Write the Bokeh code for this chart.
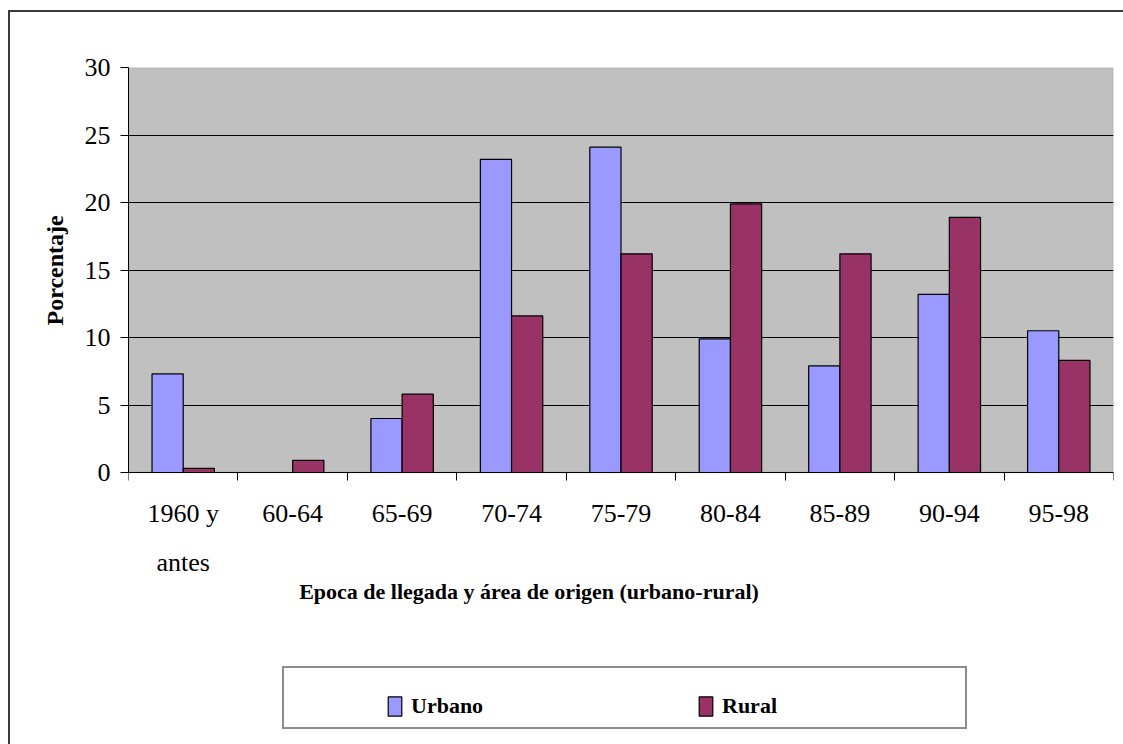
from bokeh.plotting import figure
from bokeh.models import (ColumnDataSource, FixedTicker, Legend, LegendItem, Title,
                          Label, Range1d, BoxAnnotation)
from bokeh.transform import dodge
from bokeh.embed import file_html
from bokeh.resources import INLINE

categories = ["1960 y\nantes", "60-64", "65-69", "70-74", "75-79", "80-84", "85-89", "90-94", "95-98"]
urbano = [7.3, 0.0, 4.0, 23.2, 24.1, 9.9, 7.9, 13.2, 10.5]
rural = [0.3, 0.9, 5.8, 11.6, 16.2, 19.9, 16.2, 18.9, 8.3]
y_ticks = [0, 5, 10, 15, 20, 25, 30]
series_names = ["Urbano", "Rural"]
x_title = "Epoca de llegada y área de origen (urbano-rural)"
y_title = "Porcentaje"

FONT = "Liberation Serif"

W, H = 1123, 744
LEFT, TOP, PLOT_W, PLOT_H = 128, 67, 985, 405
n = len(categories)
y_max = y_ticks[-1]
px_per_unit = PLOT_H / y_max
y_min = -(H - TOP - PLOT_H) / px_per_unit      # frame continues below the plot area

centers = [i + 0.5 for i in range(n)]
bounds = list(range(n + 1))
source = ColumnDataSource(dict(x=centers, urbano=urbano, rural=rural))

p = figure(width=W, height=H,
           x_range=Range1d(0, n), y_range=Range1d(y_min, y_max),
           output_backend="svg", toolbar_location=None,
           min_border_left=LEFT, min_border_right=W - LEFT - PLOT_W,
           min_border_top=TOP, min_border_bottom=0)

p.background_fill_color = "white"
p.border_fill_alpha = 0
p.outline_line_color = None
p.styles = {"box-shadow": "inset 8px 0 0 0 #ffffff, inset 0 10px 0 0 #ffffff, "
                          "inset 10px 0 0 0 #3c3c3c, inset 0 12px 0 0 #3c3c3c"}

# grey plot area
p.add_layout(BoxAnnotation(left=0, right=n, bottom=0, top=y_max, level="image",
                           fill_color="#C0C0C0", fill_alpha=1,
                           line_color="#808080", line_width=1.5))

bw = 0.285
r_u = p.vbar(x=dodge("x", -bw / 2), top="urbano", width=bw, source=source,
             fill_color="#9999FF", line_color="#000000", line_width=1.2)
r_r = p.vbar(x=dodge("x", bw / 2), top="rural", width=bw, source=source,
             fill_color="#993366", line_color="#000000", line_width=1.2)

# grid
p.xgrid.visible = False
p.ygrid.grid_line_color = "#000000"
p.ygrid.grid_line_width = 1.2
p.ygrid.ticker = FixedTicker(ticks=y_ticks)

# y axis
p.yaxis.ticker = FixedTicker(ticks=y_ticks)
p.yaxis.bounds = (0, y_max)
p.yaxis.axis_line_color = "#000000"
p.yaxis.major_tick_out = 8
p.yaxis.major_tick_in = 0
p.yaxis.minor_tick_line_color = None
p.yaxis.major_label_standoff = 10
p.yaxis.major_label_text_font = FONT
p.yaxis.major_label_text_font_size = "26px"
p.yaxis.major_label_text_color = "#000000"

# y axis title, centred on the grey plot area (text reads upwards from its start)
area_mid = TOP + PLOT_H / 2
y_title_len = 111
p.add_layout(Title(text=y_title, align="left", offset=H - area_mid - y_title_len / 2,
                   standoff=27, text_font=FONT, text_font_style="bold",
                   text_font_size="24px", text_color="#000000"), "left")

# x axis at y=0: labels at centres, ticks at category boundaries
p.xaxis.fixed_location = 0
p.xaxis.bounds = (0, n)
p.xaxis.ticker = FixedTicker(ticks=centers, minor_ticks=bounds)
p.xaxis.major_label_overrides = {c: lab for c, lab in zip(centers, categories)}
p.xaxis.axis_line_color = "#000000"
p.xaxis.major_tick_out = 0
p.xaxis.major_tick_in = 0
p.xaxis.minor_tick_out = 8
p.xaxis.minor_tick_in = 0
p.xaxis.minor_tick_line_color = "#000000"
p.xaxis.major_label_standoff = 18
p.xaxis.major_label_text_font = FONT
p.xaxis.major_label_text_font_size = "26px"
p.xaxis.major_label_text_color = "#000000"
p.xaxis.major_label_text_line_height = 1.7

# x axis title (offset left as in the original)
p.add_layout(Label(x=(528.5 - LEFT) / (PLOT_W / n), y=-(591 - TOP - PLOT_H) / px_per_unit,
                   text=x_title, text_align="center", text_baseline="alphabetic",
                   text_font=FONT, text_font_style="bold", text_font_size="22px",
                   text_color="#000000"))

# legend frame
dummy = p.rect(x=[], y=[], width=[], height=[], fill_alpha=0, line_alpha=0)
box = Legend(items=[LegendItem(label=" ", renderers=[dummy])],
             location=(282 - LEFT, H - 729), orientation="horizontal",
             padding=17, margin=0, glyph_width=17, glyph_height=25,
             label_standoff=0, label_width=630,
             border_line_color="#1a1a1a", border_line_width=2,
             background_fill_color="white", background_fill_alpha=1)
p.add_layout(box)

leg = Legend(items=[LegendItem(label=series_names[0], renderers=[r_u]),
                    LegendItem(label=series_names[1], renderers=[r_r])],
             location=(386 - LEFT, H - 719), orientation="horizontal",
             padding=0, margin=0, spacing=0, glyph_width=17, glyph_height=24,
             label_standoff=8, label_width=286,
             border_line_alpha=0, background_fill_alpha=0,
             label_text_font=FONT, label_text_font_style="bold",
             label_text_font_size="22px", label_text_color="#000000")
p.add_layout(leg)

open("out.html", "w").write(file_html(p, INLINE))
